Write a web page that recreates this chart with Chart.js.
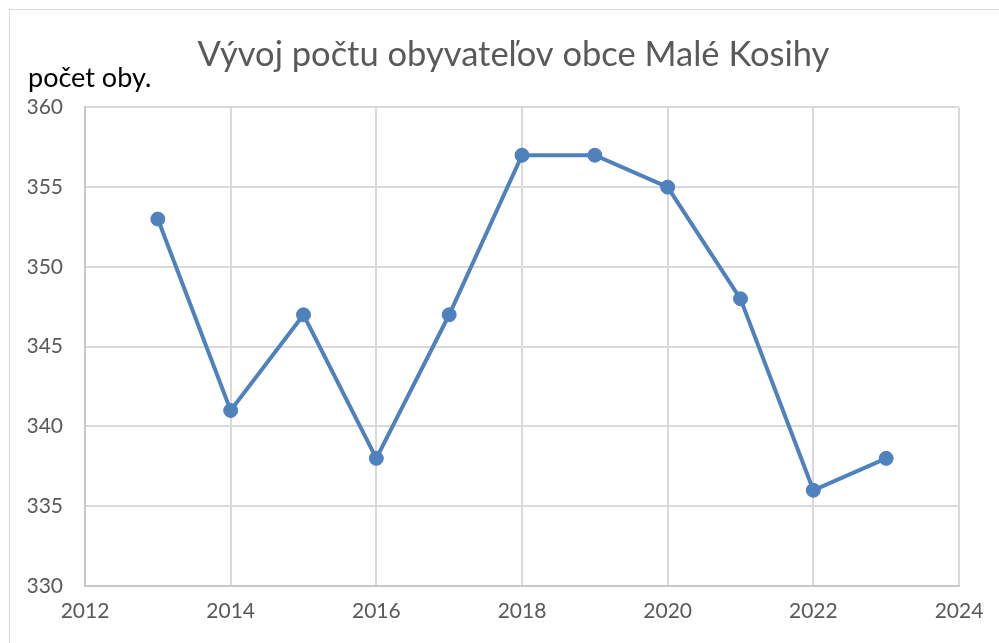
<!DOCTYPE html>
<html lang="sk">
<head>
    <meta charset="UTF-8" />
    <title>Vývoj počtu obyvateľov obce Malé Kosihy</title>
    <script src="https://cdn.jsdelivr.net/npm/chart.js"></script>
    <style>
        html, body { margin: 0; padding: 0; background: #fff; overflow: hidden; }
        .frame {
            position: absolute; left: 9px; top: 9px;
            width: 990px; height: 633px;
            border: 1px solid #d9d9d9;
        }
        canvas { display: block; }
    </style>
</head>
<body>
    <div class="frame">
        <canvas id="popChart" width="990" height="633"></canvas>
    </div>

    <script>
    // roky a počet obyvateľov
    const years = [2013, 2014, 2015, 2016, 2017, 2018, 2019, 2020, 2021, 2022, 2023];
    const population = [353, 341, 347, 338, 347, 357, 357, 355, 348, 336, 338];

    const chartTitle = 'Vývoj počtu obyvateľov obce Malé Kosihy\u2002';
    const yLabel = 'počet oby.';

    const blue = 'rgb(79, 129, 189)';
    const gridColor = '#d9d9d9';
    const tickColor = '#595959';
    const font = 'Lato';

    const ctx = document.getElementById('popChart').getContext('2d');
    new Chart(ctx, {
        type: 'line',
        data: {
            datasets: [{
                label: 'Počet obyvateľov',
                data: years.map((y, i) => ({ x: y, y: population[i] })),
                borderColor: blue,
                backgroundColor: blue,
                borderWidth: 4,
                pointRadius: 7,
                pointBorderWidth: 1,
                pointBackgroundColor: blue,
                pointBorderColor: blue,
                tension: 0
            }]
        },
        options: {
            responsive: false,
            animation: false,
            layout: { padding: { left: 18, right: 41, top: 0, bottom: 0 } },
            plugins: {
                legend: { display: false },
                tooltip: { enabled: false },
                title: {
                    display: true,
                    fullSize: false, // centrovať nad plochou grafu
                    text: chartTitle,
                    color: tickColor,
                    font: { family: font, size: 34.5, weight: 'normal', lineHeight: 0.7 },
                    padding: { top: 33, bottom: 0 }
                },
                subtitle: {
                    display: true,
                    text: yLabel,
                    align: 'start',
                    color: '#000',
                    font: { family: font, size: 27, weight: 'normal', lineHeight: 0.8 },
                    padding: { top: 0, bottom: 18.6 }
                }
            },
            scales: {
                x: {
                    type: 'linear',
                    min: 2012,
                    max: 2024,
                    border: { color: '#c8c8c8', width: 2 },
                    grid: { color: gridColor, lineWidth: 2, drawTicks: false },
                    ticks: {
                        stepSize: 2,
                        color: tickColor,
                        padding: 13,
                        font: { family: font, size: 21 },
                        callback: v => String(v)
                    },
                    afterFit: s => { s.height = 57; }
                },
                y: {
                    min: 330,
                    max: 360,
                    border: { color: '#c8c8c8', width: 2 },
                    grid: { color: gridColor, lineWidth: 2, drawTicks: false },
                    ticks: {
                        stepSize: 5,
                        color: tickColor,
                        padding: 22,
                        font: { family: font, size: 21 }
                    },
                    afterFit: s => { s.width = 57; }
                }
            }
        }
    });
    </script>
</body>
</html>
